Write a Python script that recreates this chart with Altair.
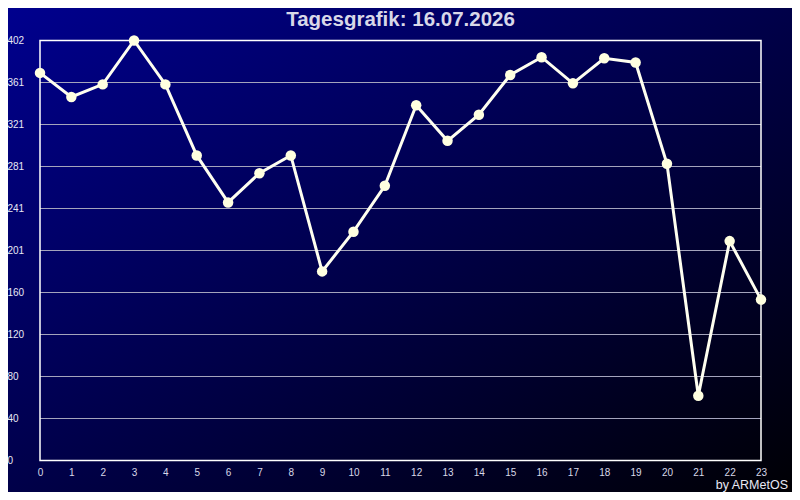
import altair as alt
import pandas as pd

hours = list(range(24))
values = [371, 348, 360, 402, 360, 292, 247, 275, 292, 181, 219, 263,
          340, 306, 331, 369, 386, 361, 385, 381, 284, 62, 210, 154]
y_ticks = [0, 40.2, 80.4, 120.6, 160.8, 201, 241.2, 281.4, 321.6, 361.8, 402]
grid_vals = y_ticks[1:-1]
title_text = "Tagesgrafik: 16.07.2026"
credit_text = "by ARMetOS"

W, H = 721, 420
FONT = "Liberation Sans"

df = pd.DataFrame({"hour": hours, "val": values})
df_grid = pd.DataFrame({"val": grid_vals})
one = pd.DataFrame({"a": [0]})

xscale = alt.Scale(domain=[0, 23], nice=False, zero=False)
yscale = alt.Scale(domain=[0, 402], nice=False, zero=False)

xaxis = alt.Axis(values=hours, grid=False, ticks=False, tickSize=0, domain=False,
                 labelColor="#d8d8e8", labelFont=FONT, labelFontSize=10,
                 labelPadding=7, labelFlush=False, labelOverlap=False,
                 title=None, zindex=1)
yaxis = alt.Axis(values=y_ticks, grid=False, ticks=False, tickSize=0, domain=False,
                 labelColor="#e8e8f4", labelFont=FONT, labelFontSize=10,
                 labelAlign="left", labelPadding=33, labelOverlap=False,
                 labelExpr="floor(datum.value)", title=None, zindex=1)

gradient = {
    "gradient": "linear", "x1": 0, "y1": 0, "x2": 1, "y2": 1,
    "stops": [{"offset": 0, "color": "#00008e"},
              {"offset": 1, "color": "#000004"}],
}

bg = alt.Chart(one).mark_rect(fill=gradient, clip=False).encode(
    x=alt.value(-32), x2=alt.value(W + 31),
    y=alt.value(-33), y2=alt.value(H + 32),
)

grid = alt.Chart(df_grid).mark_rule(color="#a4a4bc", strokeWidth=1).encode(
    y=alt.Y("val:Q", scale=yscale, axis=yaxis),
    x=alt.XDatum(0, type="quantitative", scale=xscale, axis=xaxis),
    x2=alt.X2Datum(23),
)

frame = alt.Chart(one).mark_rect(filled=False, stroke="white", strokeWidth=1.5).encode(
    x=alt.XDatum(0, type="quantitative", scale=xscale, axis=xaxis),
    x2=alt.X2Datum(23),
    y=alt.YDatum(0, type="quantitative", scale=yscale, axis=yaxis),
    y2=alt.Y2Datum(402),
)

line = alt.Chart(df).mark_line(color="#fffff0", strokeWidth=3).encode(
    x=alt.X("hour:Q", scale=xscale, axis=xaxis),
    y=alt.Y("val:Q", scale=yscale, axis=yaxis),
)

points = alt.Chart(df).mark_circle(color="#ffffe0", size=110, opacity=1).encode(
    x=alt.X("hour:Q", scale=xscale, axis=xaxis),
    y=alt.Y("val:Q", scale=yscale, axis=yaxis),
)

title = alt.Chart(one).mark_text(
    text=title_text, align="center", baseline="alphabetic", fontSize=20.5,
    font=FONT, fontWeight="bold", color="#d8d8e8",
).encode(x=alt.value(W / 2), y=alt.value(-14.5))

credit = alt.Chart(one).mark_text(
    text=credit_text, align="right", baseline="alphabetic", fontSize=12.5,
    font=FONT, color="#e8e8f4",
).encode(x=alt.value(748), y=alt.value(448.5))

chart = alt.layer(bg, grid, frame, line, points, title, credit).properties(
    width=W, height=H,
    autosize=alt.AutoSizeParams(type="none"),
    padding={"left": 32, "top": 32.5, "right": 31, "bottom": 31.5},
).configure_view(stroke=None)

chart.save("out.html", embed_options={"renderer": "svg", "actions": False})
